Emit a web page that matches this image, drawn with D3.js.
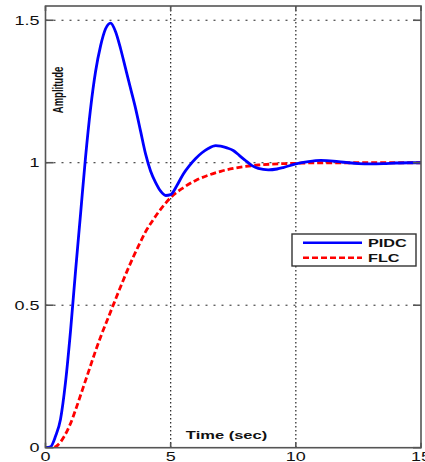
<!DOCTYPE html>
<html>
<head>
<meta charset="utf-8">
<script src="https://cdn.jsdelivr.net/npm/d3@7"></script>
<style>
  html, body { margin: 0; padding: 0; background: #fff; }
  svg { display: block; }
  text { font-family: "Liberation Sans", Arial, sans-serif; fill: #111; }
</style>
</head>
<body>
<svg id="chart" width="425" height="462"></svg>
<script>
// Step response of the two controllers (time in seconds, amplitude)
const pidcTime = [0, 0.2, 0.4, 0.6, 0.8, 1.0, 1.2, 1.4, 1.6, 1.8, 2.0, 2.2, 2.4, 2.6, 2.8, 3.0, 3.2, 3.4, 3.6, 3.8, 4.0, 4.2, 4.4, 4.6, 4.8, 5.0, 5.25, 5.5, 5.75, 6.0, 6.25, 6.5, 6.8, 7.0, 7.25, 7.5, 7.75, 8.0, 8.25, 8.5, 8.9, 9.25, 9.5, 10, 10.5, 11, 11.5, 12, 12.5, 13, 13.5, 14, 14.5, 15];
const pidcValues = [0, 0.003, 0.04, 0.1, 0.23, 0.41, 0.62, 0.82, 1.02, 1.19, 1.32, 1.41, 1.47, 1.49, 1.46, 1.40, 1.33, 1.26, 1.19, 1.11, 1.03, 0.97, 0.93, 0.90, 0.885, 0.888, 0.92, 0.96, 0.99, 1.015, 1.035, 1.05, 1.06, 1.058, 1.052, 1.043, 1.025, 1.007, 0.99, 0.98, 0.975, 0.978, 0.983, 0.996, 1.004, 1.008, 1.006, 1.001, 0.997, 0.996, 0.997, 0.999, 1.0, 1.0];

const flcTime = [0, 0.3, 0.5, 0.75, 1.0, 1.25, 1.5, 1.75, 2.0, 2.25, 2.5, 2.75, 3.0, 3.25, 3.5, 3.75, 4.0, 4.25, 4.5, 4.75, 5.0, 5.5, 6.0, 6.5, 7.0, 7.5, 8.0, 8.5, 9.0, 10, 11, 12, 15];
const flcValues = [0, 0, 0.01, 0.04, 0.085, 0.145, 0.21, 0.275, 0.34, 0.4, 0.455, 0.51, 0.565, 0.618, 0.668, 0.714, 0.758, 0.793, 0.825, 0.853, 0.878, 0.912, 0.938, 0.956, 0.97, 0.98, 0.987, 0.992, 0.995, 0.998, 1.0, 1.0, 1.0];

const xTicks = [0, 5, 10, 15];
const yTicks = [0, 0.5, 1, 1.5];
const seriesNames = ["PIDC", "FLC"];

const svg = d3.select("#chart");
const plotLeft = 45.5, plotRight = 421, plotTop = 6, plotBottom = 447.7;
const stretch = 1.5; // horizontal widening of all lettering

const x = d3.scaleLinear().domain([0, 15]).range([plotLeft, plotRight]);
const y = d3.scaleLinear().domain([0, 1.55]).range([plotBottom, plotTop]);

// dotted grid
svg.append("g").selectAll("line").data(yTicks.filter(v => v > 0)).join("line")
  .attr("x1", plotLeft).attr("x2", plotRight)
  .attr("y1", d => y(d)).attr("y2", d => y(d))
  .attr("stroke", "#222").attr("stroke-width", 1)
  .attr("stroke-dasharray", "2,6");
svg.append("g").selectAll("line").data(xTicks.filter(v => v > 0 && v < 15)).join("line")
  .attr("x1", d => x(d)).attr("x2", d => x(d))
  .attr("y1", plotTop).attr("y2", plotBottom)
  .attr("stroke", "#222").attr("stroke-width", 1.2)
  .attr("stroke-dasharray", "1.5,2.5");

// curves, clipped to the axes box
svg.append("clipPath").attr("id", "plotclip").append("rect")
  .attr("x", plotLeft).attr("y", plotTop)
  .attr("width", plotRight - plotLeft).attr("height", plotBottom - plotTop);

const line = d3.line().x(d => x(d[0])).y(d => y(d[1])).curve(d3.curveMonotoneX);
const plot = svg.append("g").attr("clip-path", "url(#plotclip)");

plot.append("path")
  .datum(flcTime.map((t, i) => [t, flcValues[i]]))
  .attr("d", line).attr("fill", "none")
  .attr("stroke", "#ff0000").attr("stroke-width", 2.8)
  .attr("stroke-dasharray", "6,3");

plot.append("path")
  .datum(pidcTime.map((t, i) => [t, pidcValues[i]]))
  .attr("d", line).attr("fill", "none")
  .attr("stroke", "#0000ff").attr("stroke-width", 2.8);

// axes box with inward ticks
const box = svg.append("g").attr("stroke", "#555").attr("stroke-width", 1.6).attr("fill", "none");
box.append("rect").attr("x", plotLeft).attr("y", plotTop)
  .attr("width", plotRight - plotLeft).attr("height", plotBottom - plotTop);
yTicks.forEach(v => {
  box.append("line").attr("x1", plotLeft).attr("x2", plotLeft + 8).attr("y1", y(v)).attr("y2", y(v));
  box.append("line").attr("x1", plotRight).attr("x2", plotRight - 8).attr("y1", y(v)).attr("y2", y(v));
});
xTicks.forEach(v => {
  box.append("line").attr("x1", x(v)).attr("x2", x(v)).attr("y1", plotBottom).attr("y2", plotBottom - 5);
  box.append("line").attr("x1", x(v)).attr("x2", x(v)).attr("y1", plotTop).attr("y2", plotTop + 5);
});

// tick labels
svg.append("g").selectAll("text").data(yTicks).join("text")
  .attr("transform", d => `translate(${plotLeft - 6},${y(d) + 4.3}) scale(${stretch},1)`)
  .attr("text-anchor", "end").attr("font-size", 12)
  .text(d => d);
svg.append("g").selectAll("text").data(xTicks).join("text")
  .attr("transform", d => `translate(${x(d)},460.5) scale(${stretch},1)`)
  .attr("text-anchor", "middle").attr("font-size", 12)
  .text(d => d);

// axis titles
svg.append("text")
  .attr("transform", `translate(226.5,439) scale(${stretch},1)`)
  .attr("text-anchor", "middle").attr("font-size", 11).attr("font-weight", "bold")
  .text("Time (sec)");
svg.append("text")
  .attr("transform", `translate(63,90) scale(${stretch},1) rotate(-90)`)
  .attr("text-anchor", "middle").attr("font-size", 9.5).attr("font-weight", "bold")
  .text("Amplitude");

// legend
const legend = svg.append("g");
legend.append("rect").attr("x", 292).attr("y", 234).attr("width", 124).attr("height", 32)
  .attr("fill", "#fff").attr("stroke", "#333").attr("stroke-width", 1.4);
const legendStyles = [
  { color: "#0000ff", dash: null },
  { color: "#ff0000", dash: "6,3" }
];
seriesNames.forEach((name, i) => {
  const ly = 242.7 + i * 15;
  legend.append("line").attr("x1", 303).attr("x2", 362).attr("y1", ly).attr("y2", ly)
    .attr("stroke", legendStyles[i].color).attr("stroke-width", 2.5)
    .attr("stroke-dasharray", legendStyles[i].dash);
  legend.append("text")
    .attr("transform", `translate(368,${ly + 3.8}) scale(1.55,1)`)
    .attr("font-size", 10.5).attr("font-weight", "bold")
    .text(name);
});
</script>
</body>
</html>
